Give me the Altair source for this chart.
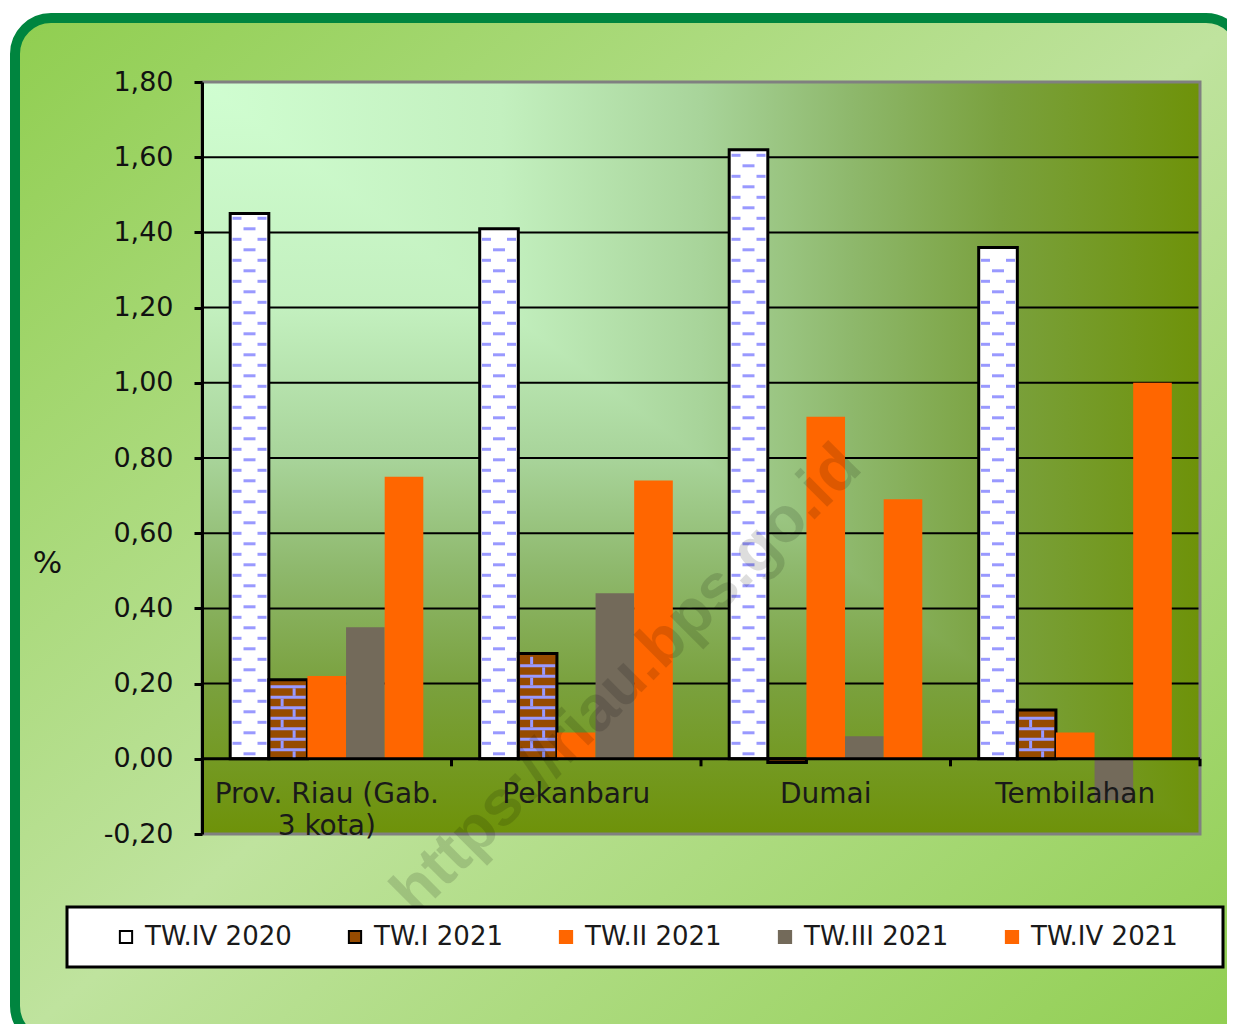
import altair as alt
import pandas as pd

# ---------------- data ----------------
categories = ["Prov. Riau (Gab. 3 kota)", "Pekanbaru", "Dumai", "Tembilahan"]
category_labels = ["Prov. Riau (Gab.\n3 kota)", "Pekanbaru", "Dumai", "Tembilahan"]
series = ["TW.IV 2020", "TW.I 2021", "TW.II 2021", "TW.III 2021", "TW.IV 2021"]

tw4_2020 = [1.45, 1.41, 1.62, 1.36]
tw1_2021 = [0.21, 0.28, -0.01, 0.13]
tw2_2021 = [0.22, 0.07, 0.91, 0.07]
tw3_2021 = [0.35, 0.44, 0.06, -0.11]
tw4_2021 = [0.75, 0.74, 0.69, 1.00]

y_ticks = [-0.2, 0.0, 0.2, 0.4, 0.6, 0.8, 1.0, 1.2, 1.4, 1.6, 1.8]
grid_ticks = [0.2, 0.4, 0.6, 0.8, 1.0, 1.2, 1.4, 1.6]

series_fill = ["#FFFFFF", "#964B00", "#FF6600", "#736A5A", "#FF6600"]
series_stroke = ["#000000", "#000000", "#FF6600", "#736A5A", "#FF6600"]
watermark = "https://riau.bps.go.id"
axis_title = "%"

# ---------------- layout / style ----------------
W, H = 998, 752
Y_MIN, Y_MAX = -0.2, 1.8
PX = H / (Y_MAX - Y_MIN)          # pixels per data unit
PAD_O = 0.73                      # outer padding of the sub-bands
SUB = len(series) + 2 * PAD_O
CAT_STEP = W / len(categories)
FONT = "DejaVu Sans"
DASH = "#9999FF"

values = dict(zip(series, [tw4_2020, tw1_2021, tw2_2021, tw3_2021, tw4_2021]))
bars_df = pd.DataFrame(
    [{"cat": c, "series": s, "value": values[s][i]}
     for s in series for i, c in enumerate(categories)]
)
labels_df = pd.DataFrame({"cat": categories, "label": category_labels})
cats_df = pd.DataFrame({"cat": categories})
grid_df = pd.DataFrame({"v": grid_ticks})


def ufrac(s_idx, dx):
    return (PAD_O + s_idx + 0.5) / SUB + dx / CAT_STEP


# fill patterns (decoration derived from the bar values)
dash_rows = []
for i, c in enumerate(categories):
    top = tw4_2020[i] * PX - 3.0
    k, yp = 0, 5.0
    while yp + 1.5 <= top:
        if k % 2 == 0:
            dash_rows.append({"cat": c, "u": ufrac(0, 0), "y": yp / PX, "len": 12})
        else:
            dash_rows.append({"cat": c, "u": ufrac(0, -12.5), "y": yp / PX, "len": 9})
            dash_rows.append({"cat": c, "u": ufrac(0, 12.5), "y": yp / PX, "len": 9})
        yp += 10.5
        k += 1
dash_df = pd.DataFrame(dash_rows)

mortar_rows, joint_rows = [], []
for i, c in enumerate(categories):
    v = tw1_2021[i]
    if v <= 0:
        continue
    top = v * PX - 1.5
    k = 0
    while True:
        line_y = 9.0 + 10.5 * k
        brick_c = line_y - 5.25
        if brick_c + 3.75 > top:
            break
        joint_rows.append({"cat": c, "u": ufrac(1, 6 if k % 2 == 0 else -6), "y": brick_c / PX})
        if line_y + 1.5 <= top:
            mortar_rows.append({"cat": c, "u": ufrac(1, 0), "y": line_y / PX})
        k += 1
mortar_df = pd.DataFrame(mortar_rows)
joint_df = pd.DataFrame(joint_rows)

xscale = alt.Scale(domain=categories, paddingInner=0, paddingOuter=0)
yscale = alt.Scale(domain=[Y_MIN, Y_MAX], nice=False, zero=False)
uscale = alt.Scale(domain=[0, 1], nice=False, zero=False)

Y_AXIS = alt.Axis(
    values=y_ticks,
    labelExpr="replace(replace(format(datum.value, '.2f'), '.', ','), '\u2212', '-')",
    labelFont=FONT, labelFontSize=27, labelColor="#111111", labelPadding=21,
    domainColor="black", domainWidth=3, tickColor="black", tickWidth=3, tickSize=8,
    grid=False, title=axis_title, titleAngle=0, titleX=-155, titleY=481,
    titleAlign="center", titleBaseline="middle", titleFont=FONT, titleFontSize=31,
    titleFontWeight="normal", titleColor="#111111", zindex=1, orient="left",
)

plot_stops = [
    {"offset": 0.0, "color": "#D0FED1"},
    {"offset": 0.3, "color": "#C3F0BF"},
    {"offset": 0.5, "color": "#A8D49A"},
    {"offset": 0.65, "color": "#8EB86C"},
    {"offset": 0.8, "color": "#7AA13E"},
    {"offset": 1.0, "color": "#6E9209"},
]
grad_h = {"gradient": "linear", "x1": 0, "y1": 0, "x2": 1, "y2": 0, "stops": plot_stops}
grad_v = {"gradient": "linear", "x1": 0, "y1": 0, "x2": 0, "y2": 1, "stops": plot_stops}
grad_card = {
    "gradient": "linear", "x1": 0, "y1": 0, "x2": 1, "y2": 1,
    "stops": [
        {"offset": 0.0, "color": "#90CE50"},
        {"offset": 0.5, "color": "#BFE39E"},
        {"offset": 1.0, "color": "#90CE50"},
    ],
}

base = alt.Chart(pd.DataFrame({"a": [0]}))

card = base.mark_rect(
    fill=grad_card, stroke="#00853F", strokeWidth=10, cornerRadius=36
).encode(x=alt.value(-187), x2=alt.value(1040), y=alt.value(-64), y2=alt.value(960))

bg_h = base.mark_rect(fill=grad_h).encode(
    x=alt.value(0), x2=alt.value(W), y=alt.value(0), y2=alt.value(H)
)

r = (H / 2) / (W / 2)
bg_tri = base.mark_point(
    shape=f"M -1 -{r:.4f} L -1 {r:.4f} L 1 {r:.4f} Z",
    filled=True, fill=grad_v, size=W * W, opacity=1, strokeWidth=0,
).encode(x=alt.value(W / 2), y=alt.value(H / 2))

grid = alt.Chart(grid_df).mark_rule(color="black", strokeWidth=2).encode(
    x=alt.value(0), x2=alt.value(W), y=alt.Y("v:Q", scale=yscale, axis=Y_AXIS)
)

legend_kw = dict(
    title=None, orient="none", legendX=-89, legendY=842, direction="horizontal",
    columns=5, symbolType="square", symbolSize=150, symbolStrokeWidth=2,
    labelFont=FONT, labelFontSize=26, labelColor="#1a1a1a", labelOffset=6,
    columnPadding=50, padding=0, labelLimit=400,
)

bars = alt.Chart(bars_df).mark_bar(opacity=1).encode(
    x=alt.X("cat:N", scale=xscale, axis=None, sort=categories),
    xOffset=alt.XOffset("series:N", scale=alt.Scale(domain=series, paddingInner=0, paddingOuter=PAD_O), sort=series),
    y=alt.Y("value:Q", scale=yscale, axis=Y_AXIS),
    y2=alt.datum(0),
    color=alt.Color("series:N", scale=alt.Scale(domain=series, range=series_fill), legend=alt.Legend(**legend_kw)),
    stroke=alt.Stroke("series:N", scale=alt.Scale(domain=series, range=series_stroke), legend=alt.Legend(**legend_kw)),
    strokeWidth=alt.condition(
        "datum.series == 'TW.IV 2020' || datum.series == 'TW.I 2021'", alt.value(3), alt.value(0)
    ),
)

dashes = alt.Chart(dash_df).mark_tick(orient="horizontal", thickness=3, color=DASH, opacity=1).encode(
    x=alt.X("cat:N", scale=xscale, axis=None),
    xOffset=alt.XOffset("u:Q", scale=uscale),
    y=alt.Y("y:Q", scale=yscale, axis=Y_AXIS),
    size=alt.Size("len:Q", scale=None, legend=None),
)

mortar = alt.Chart(mortar_df).mark_tick(orient="horizontal", thickness=3, size=35, color=DASH, opacity=1).encode(
    x=alt.X("cat:N", scale=xscale, axis=None),
    xOffset=alt.XOffset("u:Q", scale=uscale),
    y=alt.Y("y:Q", scale=yscale, axis=Y_AXIS),
)

joints = alt.Chart(joint_df).mark_tick(orient="vertical", thickness=3, size=7.5, color=DASH, opacity=1).encode(
    x=alt.X("cat:N", scale=xscale, axis=None),
    xOffset=alt.XOffset("u:Q", scale=uscale),
    y=alt.Y("y:Q", scale=yscale, axis=Y_AXIS),
)

border = base.mark_rect(filled=False, stroke="#808080", strokeWidth=3, fillOpacity=0).encode(
    x=alt.value(0), x2=alt.value(W), y=alt.value(0), y2=alt.value(H)
)

zero_line = base.mark_rule(color="black", strokeWidth=3).encode(
    x=alt.value(0), x2=alt.value(W), y=alt.datum(0, scale=yscale, axis=Y_AXIS)
)

cat_ticks = alt.Chart(cats_df).mark_rule(color="black", strokeWidth=3).encode(
    x=alt.X("cat:N", scale=xscale, axis=None, bandPosition=1),
    y=alt.datum(0, axis=Y_AXIS),
    y2=alt.datum(-0.02),
)

labels = alt.Chart(labels_df).mark_text(
    font=FONT, fontSize=28, color="#1a1a1a", baseline="alphabetic",
    lineBreak="\n", lineHeight=32, align="center",
).encode(
    x=alt.X("cat:N", scale=xscale, axis=None),
    y=alt.datum(-0.117, axis=Y_AXIS),
    text="label:N",
)

wm = base.mark_text(
    angle=315, font="Liberation Sans", fontSize=64, fontWeight="bold",
    color="black", opacity=0.13, align="center", baseline="middle",
).encode(x=alt.value(425), y=alt.value(598), text=alt.value(watermark))

legend_box = base.mark_rect(fill="white", stroke="black", strokeWidth=3).encode(
    x=alt.value(-135), x2=alt.value(1021), y=alt.value(825), y2=alt.value(885)
)

chart = alt.layer(
    card, bg_h, bg_tri, grid, bars, dashes, mortar, joints, border,
    zero_line, cat_ticks, labels, wm, legend_box,
).resolve_scale(xOffset="independent").properties(
    width=W, height=H,
    autosize=alt.AutoSizeParams(type="none"),
    padding={"left": 194, "top": 74, "right": 27, "bottom": 190},
    background="white",
).configure_view(stroke=None).configure_axis(zindex=1)

chart.save("out.html", embed_options={"renderer": "svg", "actions": False})
